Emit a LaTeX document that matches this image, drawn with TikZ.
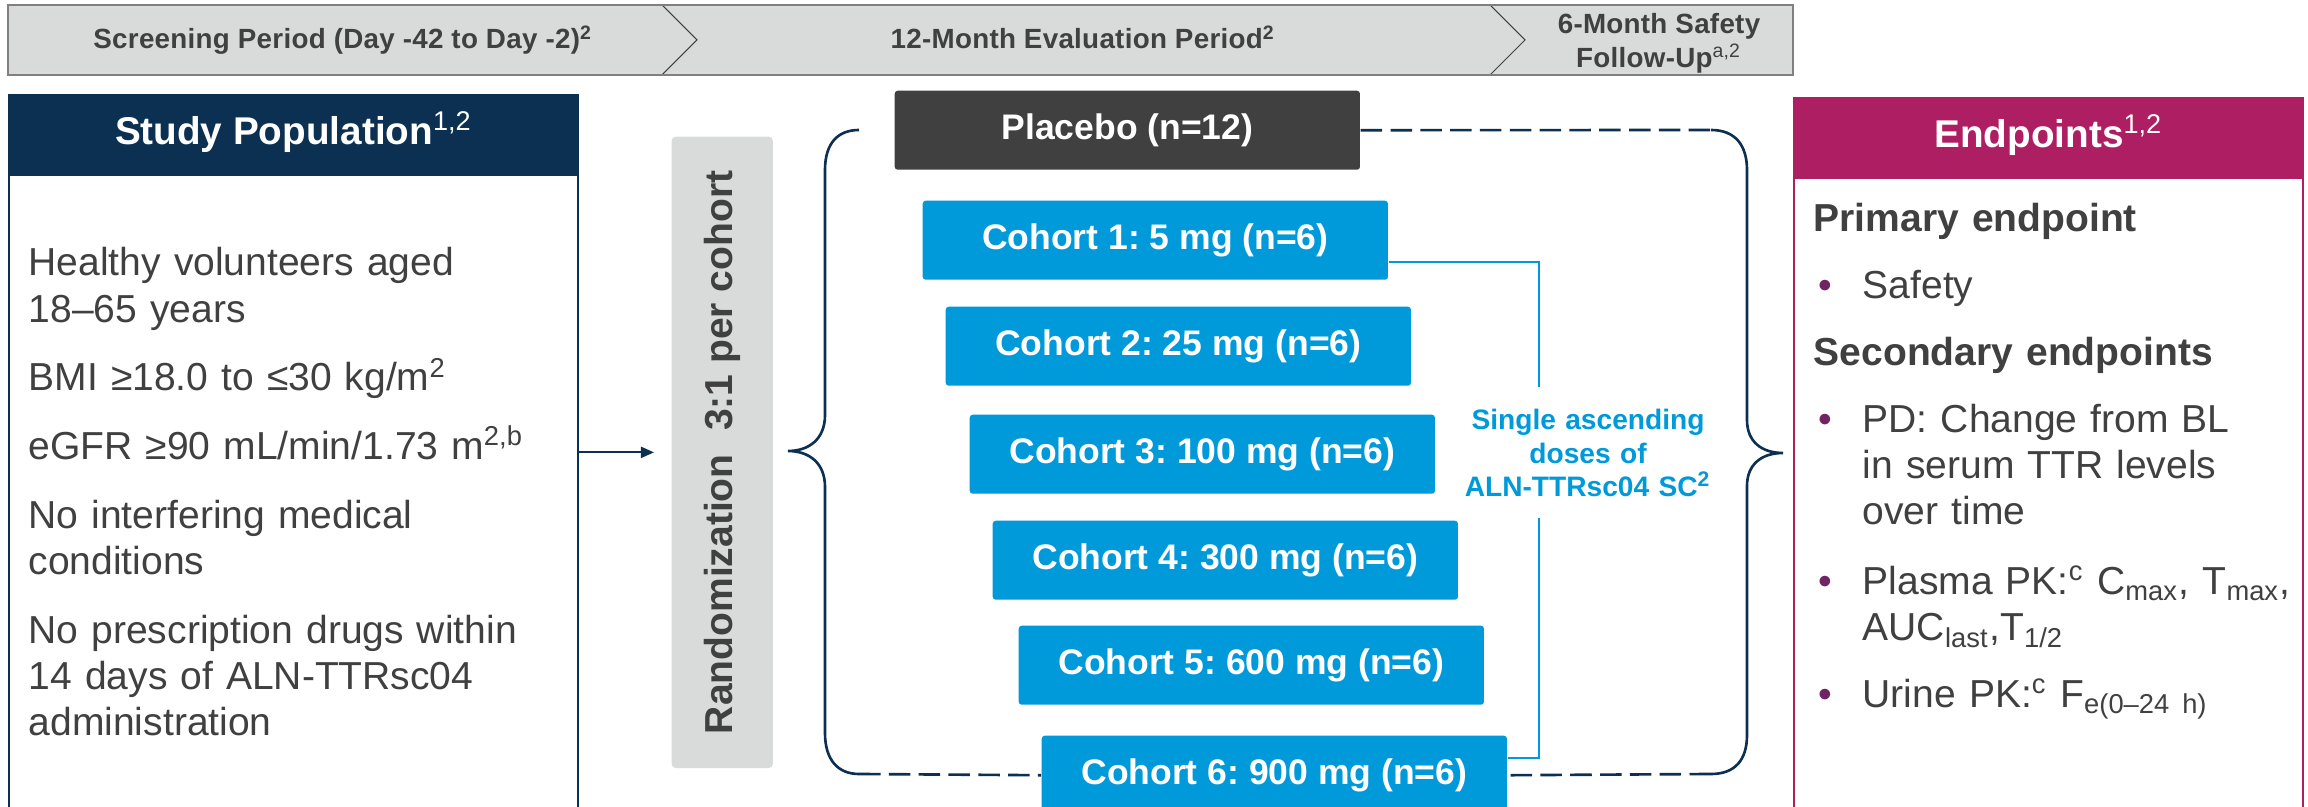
\documentclass[tikz,border=0pt]{standalone}
\usepackage{fontspec}
\setmainfont{Liberation Sans}
\usepackage[dvipsnames,svgnames,x11names]{xcolor}
\definecolor{navyhead}{RGB}{12,48,82}
\definecolor{epmagenta}{RGB}{174,30,98}
\definecolor{cohortblue}{RGB}{0,154,218}
\definecolor{placebogray}{RGB}{64,64,64}
\definecolor{textgray}{RGB}{64,64,64}
\definecolor{bannergray}{RGB}{217,218,218}
\definecolor{bannerline}{RGB}{128,128,128}
\definecolor{bulletpurple}{RGB}{112,36,100}
\usepackage{tikz}
\usetikzlibrary{
    arrows.meta,
    positioning,
    calc
}
\frenchspacing
\newcommand{\pgap}{6.5pt}
\newcommand{\egap}{5.9pt}
\newcommand{\epbullet}{\makebox[0.49cm][l]{\hspace{0.05cm}\textcolor{bulletpurple}{\textbullet}}}
\newcommand{\epindent}{\hspace*{0.49cm}}

\tikzset{
    phase/.style={text=textgray, inner sep=0pt,
        font=\bfseries\fontsize{7.9}{9.7}\selectfont\addfontfeature{LetterSpace=1}},
    panelhead/.style={anchor=north west, minimum height=0.78cm, inner sep=0pt,
        line width=0.6pt, text=white, text height=0.3cm, text depth=0.09cm,
        font=\bfseries\fontsize{11}{13}\selectfont},
    panelbody/.style={fill=white, line width=0.6pt, minimum height=7.5cm},
    listtext/.style={anchor=base west, align=left, inner sep=0pt, text=textgray,
        font=\fontsize{11.1}{13.1}\selectfont},
    randbox/.style={fill=bannergray, rounded corners=0.04cm,
        minimum width=1.01cm, minimum height=6.31cm},
    randtext/.style={text=textgray, inner sep=0pt,
        font=\bfseries\fontsize{11.1}{13}\selectfont},
    armbox/.style={anchor=north west, minimum width=4.65cm, minimum height=0.79cm,
        fill=cohortblue, rounded corners=0.03cm, inner sep=0pt, text=white,
        font=\bfseries\fontsize{10.1}{12}\selectfont},
    dosetext/.style={anchor=base, align=center, text width=2.7cm, inner sep=0pt,
        text=cohortblue, font=\bfseries\fontsize{8}{9.5}\selectfont},
    flowarrow/.style={navyhead, line width=0.6pt, -{Triangle[length=0.13cm,width=0.11cm]}},
    braceline/.style={navyhead, line width=0.75pt},
    dashline/.style={navyhead, line width=0.75pt, dash pattern=on 0.215cm off 0.083cm},
    doseline/.style={cohortblue, line width=0.6pt},
    chevline/.style={placebogray, line width=0.3pt}
}

\begin{document}
\begin{tikzpicture}[x=0.01cm, y=-0.01cm]
    \clip (0,0) rectangle (2308,807);

    % phase banner
    \fill[bannergray] (8,5) rectangle (1793,75);
    \draw[chevline] (662,5) -- (697,40) -- (662,75);
    \draw[chevline] (1490,5) -- (1525,40) -- (1490,75);
    \draw[bannerline, line width=0.6pt] (8,5) rectangle (1793,75);
    \node[phase, anchor=base] (screen) at (343,49) {Screening Period (Day -42 to Day -2)\textsuperscript{2}};
    \node[phase, anchor=base] (evalp) at (1083,49) {12-Month Evaluation Period\textsuperscript{2}};
    \node[phase, align=center] (follow) at (1659,43) {6-Month Safety\\Follow-Up\textsuperscript{\mdseries a,2}};

    % study population
    \node[panelhead, fill=navyhead, draw=navyhead, minimum width=5.69cm] (sphead) at (8,94)
        {Study Population\textsuperscript{\mdseries 1,2}};
    \node[panelbody, draw=navyhead, minimum width=5.69cm, anchor=north west] (spbody) at (sphead.south west) {};
    \node[listtext, text width=5.4cm] (spinfo) at (28,276)
        {Healthy volunteers aged\\18--65 years\\[\pgap]
         BMI ≥18.0 to ≤30 kg/m\textsuperscript{2}\\[\pgap]
         eGFR ≥90 mL/min/1.73 m\textsuperscript{2,b}\\[\pgap]
         No interfering medical\\conditions\\[\pgap]
         No prescription drugs within\\14 days of ALN-TTRsc04\\administration};

    % randomization
    \node[randbox, anchor=north west] (rand) at (671,136) {};
    \node[randtext, rotate=90] (randlbl) at (rand.center) {Randomization\hspace{0.6em}3:1 per cohort};
    \draw[flowarrow] (spbody.east |- rand.center) -- ([xshift=-0.17cm]rand.west);

    % treatment arms
    \node[armbox, fill=placebogray] (placebo) at (894,90) {Placebo (n=12)};
    \node[armbox] (c1) at (922,200) {Cohort 1: 5 mg (n=6)};
    \node[armbox] (c2) at (945,306) {Cohort 2: 25 mg (n=6)};
    \node[armbox] (c3) at (969,414) {Cohort 3: 100 mg (n=6)};
    \node[armbox] (c4) at (992,520) {Cohort 4: 300 mg (n=6)};
    \node[armbox] (c5) at (1018,625) {Cohort 5: 600 mg (n=6)};
    \node[armbox] (c6) at (1041,735) {Cohort 6: 900 mg (n=6)};

    % braces
    \coordinate (lbbot) at (859,774);
    \coordinate (rbtop) at (1711,130);
    \coordinate (rbbot) at (1711,774);
    \draw[braceline] (859,130) .. controls (838,130) and (825,143) .. (825,170) -- (825,415)
        .. controls (825,440) and (808,451) .. (788,451)
        .. controls (808,451) and (825,462) .. (825,487) -- (825,733)
        .. controls (825,760) and (838,774) .. (lbbot);
    \draw[dashline] (lbbot) -- (c6.west);
    \draw[dashline] (placebo.east) -- (rbtop);
    \draw[braceline] (rbtop) .. controls (1735,130) and (1747,145) .. (1747,170) -- (1747,420)
        .. controls (1747,442) and (1762,453) .. (1783,453)
        .. controls (1762,453) and (1747,464) .. (1747,486) -- (1747,735)
        .. controls (1747,760) and (1735,774) .. (rbbot);
    \draw[dashline] (rbbot) -- (c6.east);

    % dose bracket
    \node[dosetext] (dose) at (1588,430) {Single ascending\\doses of\\ALN-TTRsc04 SC\textsuperscript{2}};
    \coordinate (dosetop) at (1539,387);
    \coordinate (dosebot) at (1539,518);
    \draw[doseline] ([yshift=-0.22cm]c1.east) -| (dosetop);
    \draw[doseline] ([yshift=0.17cm]c6.east) -| (dosebot);

    % endpoints
    \node[panelhead, fill=epmagenta, draw=epmagenta, minimum width=5.09cm] (ephead) at (1793,97)
        {Endpoints\textsuperscript{\mdseries 1,2}};
    \node[panelbody, draw=epmagenta, minimum width=5.09cm, anchor=north west] (epbody) at (ephead.south west) {};
    \node[listtext, text width=5.5cm] (epinfo) at (1813,232)
        {\textbf{Primary endpoint}\\[\egap]
         \epbullet Safety\\[\egap]
         \textbf{Secondary endpoints}\\[\egap]
         \epbullet PD: Change from BL\\
         \epindent in serum TTR levels\\
         \epindent over time\\[6.8pt]
         \epbullet Plasma PK:\textsuperscript{c} C\textsubscript{max}, T\textsubscript{max},\\
         \epindent AUC\textsubscript{last},T\textsubscript{1/2}\\[\egap]
         \epbullet Urine PK:\textsuperscript{c} F\textsubscript{e(0--24 h)}};
\end{tikzpicture}
\end{document}
